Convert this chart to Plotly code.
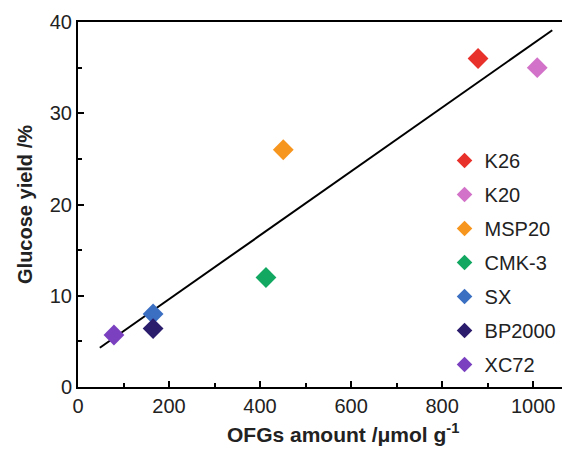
import plotly.graph_objects as go

names = ["K26", "K20", "MSP20", "CMK-3", "SX", "BP2000", "XC72"]
ofg_amount = [879, 1009, 451, 413, 165, 165, 79]
glucose_yield = [36.0, 35.0, 26.0, 12.0, 8.0, 6.4, 5.7]
colors = ["#e8312a", "#d272c8", "#f7961f", "#12a862", "#3a6fc2", "#2c1c6c", "#7a40bf"]

trend_x = [48, 1042]
trend_y = [4.3, 39.1]

fig = go.Figure()
fig.add_trace(go.Scatter(x=trend_x, y=trend_y, mode="lines",
                         line=dict(color="black", width=2), showlegend=False))
for n, xv, yv, c in zip(names, ofg_amount, glucose_yield, colors):
    fig.add_trace(go.Scatter(x=[xv], y=[yv], mode="markers", name=n, legendgroup=n,
                             marker=dict(symbol="diamond", size=16, color=c)))

font = "Liberation Sans, Arial, sans-serif"
fig.update_layout(
    width=562, height=441,
    margin=dict(l=70, r=0, t=14, b=62),
    plot_bgcolor="white", paper_bgcolor="white",
    font=dict(family=font, size=20, color="#222"),
    legend=dict(x=0.745, y=0.674, xanchor="left", yanchor="top",
                font=dict(size=20, family=font, color="#222"),
                itemsizing="constant", tracegroupgap=5,
                bgcolor="rgba(0,0,0,0)"),
    xaxis=dict(range=[0, 1081], tickvals=[0, 200, 400, 600, 800, 1000],
               ticks="inside", ticklen=6, tickwidth=1.5, tickcolor="black",
               minor=dict(dtick=100, tick0=0, ticks="inside", ticklen=4, tickcolor="black", tickwidth=1.5),
               showline=True, linecolor="black", linewidth=2, mirror=True,
               showgrid=False, zeroline=False,
               tickfont=dict(size=20)),
    yaxis=dict(range=[0, 40], tickvals=[0, 10, 20, 30, 40],
               ticks="inside", ticklen=6, tickwidth=1.5, tickcolor="black",
               minor=dict(dtick=5, tick0=0, ticks="inside", ticklen=4, tickcolor="black", tickwidth=1.5),
               showline=True, linecolor="black", linewidth=2,
               showgrid=False, zeroline=False,
               tickfont=dict(size=20),
               title=dict(text="<b>Glucose yield /%</b>", font=dict(size=20), standoff=12)),
    annotations=[dict(text="<b>OFGs amount /μmol g<sup>-1</sup></b>", xref="paper", yref="paper",
                      x=0.539, y=-0.127, xanchor="center", yanchor="middle", showarrow=False,
                      font=dict(size=21, family=font, color="#222"))],
)
fig.write_html("out.html")
